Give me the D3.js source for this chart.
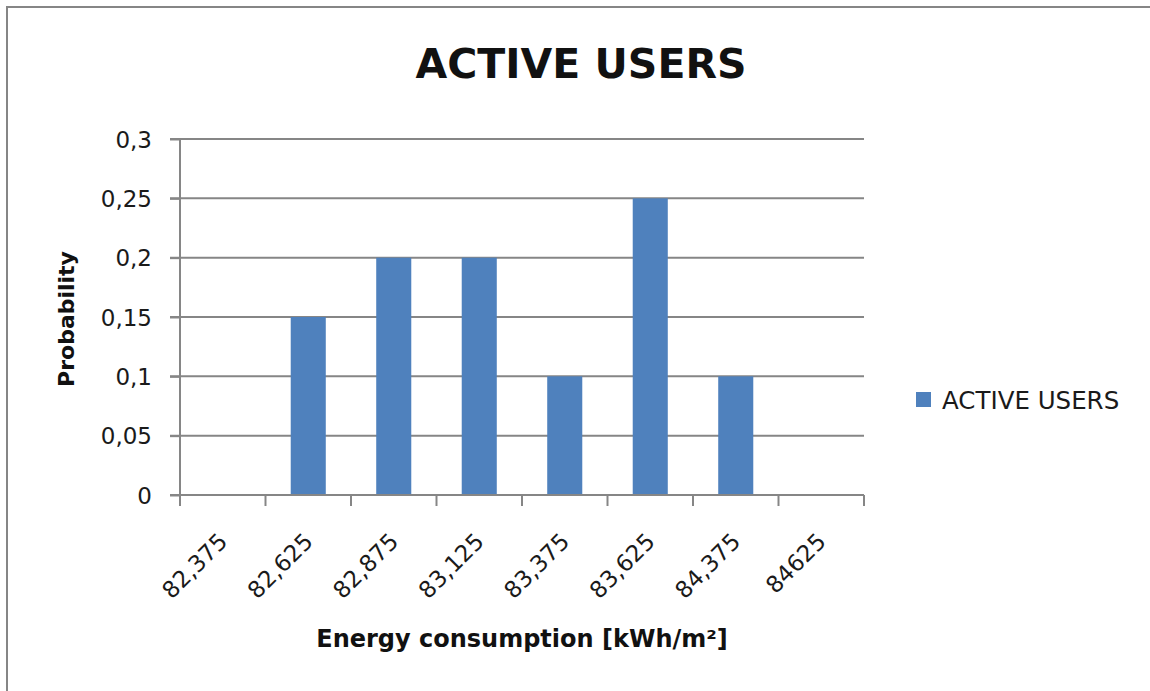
<!DOCTYPE html>
<html>
<head>
<meta charset="utf-8">
<script src="https://d3js.org/d3.v7.min.js"></script>
<style>
  body { margin: 0; background: #fff; }
</style>
</head>
<body>
<div id="chart"></div>
<script>
// data
var categories = ["82,375", "82,625", "82,875", "83,125", "83,375", "83,625", "84,375", "84625"];
var values = [0, 0.15, 0.2, 0.2, 0.1, 0.25, 0.1, 0];
var yTicks = [0, 0.05, 0.1, 0.15, 0.2, 0.25, 0.3];
var yTickLabels = ["0", "0,05", "0,1", "0,15", "0,2", "0,25", "0,3"];
var seriesName = "ACTIVE USERS";

var svgWidth = 1150;
var svgHeight = 691;

var plot = { left: 180, right: 864, top: 139, bottom: 495 };
var gray = "#868686";
var barColor = "#4f81bd";
var textColor = "#1a1a1a";

var svg = d3.select("#chart")
  .append("svg")
  .attr("width", svgWidth)
  .attr("height", svgHeight);

// outer frame
svg.append("rect")
  .attr("x", 7)
  .attr("y", 7)
  .attr("width", 1300)
  .attr("height", 900)
  .attr("fill", "none")
  .attr("stroke", gray)
  .attr("stroke-width", 2);

// scales
var xScale = d3.scaleBand()
  .domain(categories)
  .range([plot.left, plot.right])
  .paddingInner(0.59)
  .paddingOuter(0.295);

var yScale = d3.scaleLinear()
  .domain([0, 0.3])
  .range([plot.bottom, plot.top]);

var step = xScale.step();

// grid lines
svg.append("g")
  .selectAll("line")
  .data(yTicks)
  .enter()
  .append("line")
  .attr("x1", plot.left - 10)
  .attr("x2", plot.right)
  .attr("y1", d => yScale(d))
  .attr("y2", d => yScale(d))
  .attr("stroke", gray)
  .attr("stroke-width", 2);

// y axis
var leftAxis = d3.axisLeft(yScale)
  .tickValues(yTicks)
  .tickSize(10)
  .tickPadding(18)
  .tickFormat((d, i) => yTickLabels[i]);

var yAxisG = svg.append("g")
  .attr("transform", `translate(${plot.left}, 0)`)
  .call(leftAxis);

yAxisG.select(".domain")
  .attr("stroke", gray)
  .attr("stroke-width", 2)
  .attr("d", `M0,${plot.top}V${plot.bottom}`);
yAxisG.selectAll(".tick line").attr("stroke", gray).attr("stroke-width", 2);
yAxisG.selectAll(".tick text")
  .style("font-family", "DejaVu Sans")
  .style("font-size", "23px")
  .attr("fill", textColor)
  .attr("dy", "0.36em");

// bars
svg.append("g")
  .selectAll("rect")
  .data(values)
  .enter()
  .append("rect")
  .attr("x", (d, i) => xScale(categories[i]))
  .attr("y", d => yScale(d))
  .attr("width", xScale.bandwidth())
  .attr("height", d => yScale(0) - yScale(d))
  .attr("fill", barColor);

// x axis line and category boundary ticks
svg.append("line")
  .attr("x1", plot.left)
  .attr("x2", plot.right)
  .attr("y1", yScale(0))
  .attr("y2", yScale(0))
  .attr("stroke", gray)
  .attr("stroke-width", 2);

var boundaries = categories.map(c => xScale(c) + xScale.bandwidth() / 2 - step / 2);
boundaries.push(plot.right);

svg.append("g")
  .selectAll("line")
  .data(boundaries)
  .enter()
  .append("line")
  .attr("x1", d => d)
  .attr("x2", d => d)
  .attr("y1", yScale(0))
  .attr("y2", yScale(0) + 11)
  .attr("stroke", gray)
  .attr("stroke-width", 2);

// x tick labels, rotated
svg.append("g")
  .selectAll("text")
  .data(categories)
  .enter()
  .append("text")
  .attr("transform", d => `translate(${xScale(d) + xScale.bandwidth() / 2 + 6}, 543) rotate(-45)`)
  .attr("text-anchor", "end")
  .style("font-family", "DejaVu Sans")
  .style("font-size", "23px")
  .attr("fill", textColor)
  .text(d => d);

// title
svg.append("text")
  .attr("x", 581)
  .attr("y", 78)
  .attr("text-anchor", "middle")
  .style("font-family", "DejaVu Sans")
  .style("font-weight", "bold")
  .style("font-size", "41px")
  .attr("fill", "#111")
  .text(seriesName);

// axis titles
svg.append("text")
  .attr("x", 522)
  .attr("y", 647)
  .attr("text-anchor", "middle")
  .style("font-family", "DejaVu Sans")
  .style("font-weight", "bold")
  .style("font-size", "24px")
  .attr("fill", "#111")
  .text("Energy consumption [kWh/m²]");

svg.append("text")
  .attr("transform", "translate(74, 319) rotate(-90)")
  .attr("text-anchor", "middle")
  .style("font-family", "DejaVu Sans")
  .style("font-weight", "bold")
  .style("font-size", "22px")
  .attr("fill", "#111")
  .text("Probability");

// legend
var legend = svg.append("g").attr("transform", "translate(916, 392)");
legend.append("rect")
  .attr("width", 15)
  .attr("height", 15)
  .attr("fill", barColor);
legend.append("text")
  .attr("x", 26)
  .attr("y", 17)
  .style("font-family", "DejaVu Sans")
  .style("font-size", "24.5px")
  .attr("fill", textColor)
  .text(seriesName);
</script>
</body>
</html>
